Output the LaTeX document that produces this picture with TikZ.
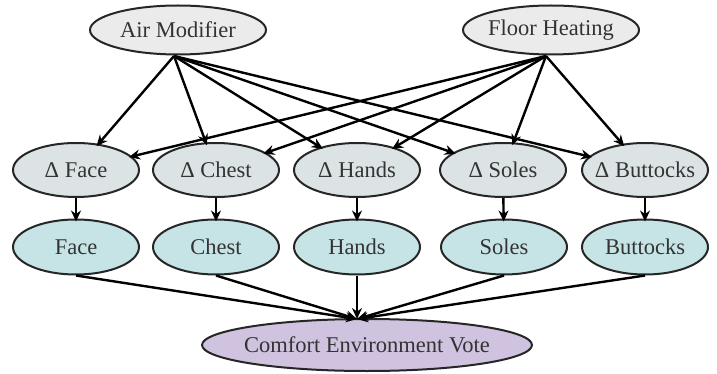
\documentclass[tikz,border=0pt]{standalone}
\usepackage{fontspec}
\setmainfont{Liberation Serif}
\usetikzlibrary{shapes.geometric,arrows.meta}
\definecolor{topfill}{HTML}{EBEBEB}
\definecolor{deltafill}{HTML}{DCE3E5}
\definecolor{bodyfill}{HTML}{C6E4E6}
\definecolor{votefill}{HTML}{CFC3E0}
\definecolor{txt}{HTML}{333333}
\begin{document}
\begin{tikzpicture}[x=1pt,y=-1pt,
  every node/.style={font=\fontsize{22.5}{26}\selectfont, text=txt},
  nd/.style={ellipse, draw=black!85, line width=2pt, inner sep=0pt},
  topnode/.style={nd, fill=topfill, minimum width=176pt, minimum height=49pt},
  deltanode/.style={nd, fill=deltafill, minimum width=126pt, minimum height=54pt},
  bodynode/.style={nd, fill=bodyfill, minimum width=126pt, minimum height=55pt},
  votenode/.style={nd, fill=votefill, minimum width=330pt, minimum height=52pt},
  arr/.style={draw=black, line width=2.4pt, -{Stealth[length=11pt,width=10pt]}, shorten >=-3pt}
]
\useasboundingbox (0,0) rectangle (717,374);
\node[topnode, label=center:{Air Modifier}] (am) at (178,30) {};
\node[topnode, label=center:{Floor Heating}] (fh) at (551,30) {};
\coordinate (amp) at (174,56);
\coordinate (fhp) at (546,56);

\node[deltanode, label=center:{Δ Face}] (df) at (76,170) {};
\node[deltanode, label=center:{Δ Chest}] (dc) at (216,170) {};
\node[deltanode, label=center:{Δ Hands}] (dh) at (357,170) {};
\node[deltanode, label=center:{Δ Soles}] (ds) at (503,170) {};
\node[deltanode, label=center:{Δ Buttocks}] (db) at (645,170) {};

\node[bodynode, label=center:{Face}] (bf) at (76,247) {};
\node[bodynode, label=center:{Chest}] (bc) at (216,247) {};
\node[bodynode, label=center:{Hands}] (bh) at (357,247) {};
\node[bodynode, label=center:{Soles}] (bs) at (504,247) {};
\node[bodynode, label=center:{Buttocks}] (bb) at (645,247) {};

\node[votenode, label=center:{Comfort Environment Vote}] (cev) at (367,345) {};
\coordinate (cevp) at (357,319);

\foreach \t in {df,dc,dh,ds,db}{
  \draw[arr] (amp) -- (\t);
  \draw[arr] (fhp) -- (\t);
}
\draw[arr] (df) -- (bf);
\draw[arr] (dc) -- (bc);
\draw[arr] (dh) -- (bh);
\draw[arr] (ds) -- (bs);
\draw[arr] (db) -- (bb);
\foreach \b in {bf,bc,bh,bs,bb}{
  \draw[arr, shorten >=0pt] (\b.south) -- (cevp);
}
\end{tikzpicture}
\end{document}
